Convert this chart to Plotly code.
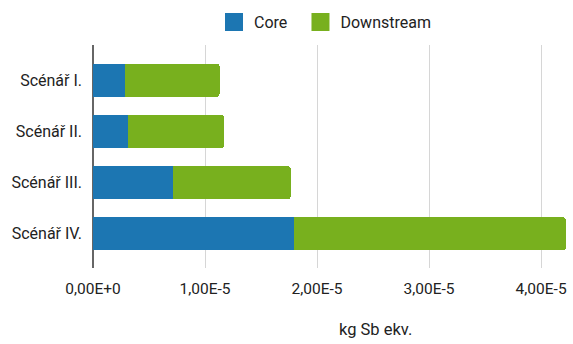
import plotly.graph_objects as go

# Scenario names and impact values (kg Sb eq.)
scenarios = ["Scénář I.", "Scénář II.", "Scénář III.", "Scénář IV."]
core = [0.287e-5, 0.309e-5, 0.713e-5, 1.798e-5]
downstream = [0.843e-5, 0.860e-5, 1.052e-5, 2.422e-5]

tick_vals = [0, 1e-5, 2e-5, 3e-5, 4e-5]
tick_text = ["0,00E+0", "1,00E-5", "2,00E-5", "3,00E-5", "4,00E-5"]

BLUE = "#1c76b2"
GREEN = "#78b01e"
TEXT = "#222222"

fig = go.Figure()
fig.add_trace(go.Bar(y=scenarios, x=core, orientation="h", name="Core",
                     marker=dict(color=BLUE, line=dict(width=0)), showlegend=False))
fig.add_trace(go.Bar(y=scenarios, x=downstream, orientation="h", name="Downstream",
                     marker=dict(color=GREEN, line=dict(width=0)), showlegend=False))

# Legend entries with larger square swatches, one legend box per series
for name, col, leg in [("Core", BLUE, "legend"), ("Downstream", GREEN, "legend2")]:
    fig.add_trace(go.Scatter(x=[None], y=[None], mode="markers", name=name,
                             marker=dict(symbol="square", size=16, color=col,
                                         line=dict(width=2, color=col)),
                             showlegend=True, legend=leg))

legend_common = dict(orientation="h", xanchor="left", y=0.985, yanchor="top",
                     yref="container", font=dict(size=16, color=TEXT),
                     itemsizing="trace", bgcolor="rgba(0,0,0,0)")

fig.update_layout(
    width=573, height=344,
    margin=dict(l=93, r=5, t=45, b=76),
    barmode="stack",
    bargap=0.354,
    barcornerradius=3,
    paper_bgcolor="white",
    plot_bgcolor="white",
    font=dict(family="Roboto", size=16, color=TEXT),
    legend=dict(x=0.2547, **legend_common),
    legend2=dict(x=0.4368, **legend_common),
    xaxis=dict(range=[0, 4.24e-5], tickvals=tick_vals, ticktext=tick_text,
               showgrid=True, gridcolor="#d6d6d6", gridwidth=1,
               zeroline=True, zerolinecolor="#666666", zerolinewidth=2,
               showline=False, ticks="", tickfont=dict(size=15.5, color=TEXT),
               ticklabelstandoff=9),
    yaxis=dict(categoryorder="array", categoryarray=scenarios,
               range=[3.671, -0.691], showgrid=False, ticks="",
               tickfont=dict(size=16, color=TEXT), ticklabelstandoff=10),
    annotations=[dict(text="kg Sb ekv.", x=0.594, y=-0.278, xref="paper", yref="paper",
                      showarrow=False, xanchor="center", yanchor="middle",
                      font=dict(size=16.5, color=TEXT))],
)

fig.write_html("out.html")
